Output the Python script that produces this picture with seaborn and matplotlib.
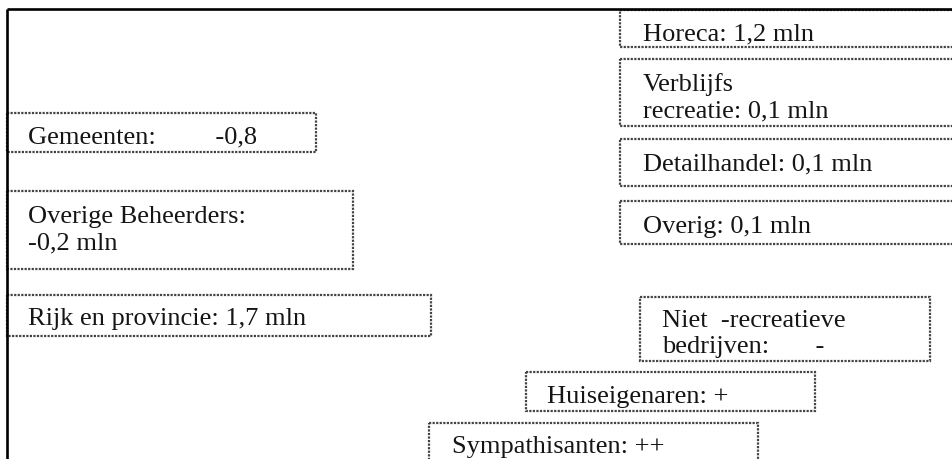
import matplotlib
matplotlib.use("Agg")
import matplotlib.pyplot as plt
from matplotlib.patches import Rectangle
import seaborn as sns

# ---- data (labels of the diagram boxes) ----
labels = [
    "Gemeenten:         -0,8",
    "Overige Beheerders:\n-0,2 mln",
    "Rijk en provincie: 1,7 mln",
    "Horeca: 1,2 mln",
    "Verblijfs\nrecreatie: 0,1 mln",
    "Detailhandel: 0,1 mln",
    "Overig: 0,1 mln",
    "Niet  -recreatieve\nbedrijven:       -",
    "Huiseigenaren: +",
    "Sympathisanten: ++",
]

# ---- layout (pixel positions in a 953x460 canvas) ----
box_x0 = [7, 7, 7, 620, 620, 620, 620, 640, 526, 429]
box_y0 = [114, 192, 296, 11, 60, 140, 202, 298, 373, 424]
box_x1 = [316, 353, 431, 975, 975, 975, 975, 930, 815, 758]
box_y1 = [153, 270, 337, 48, 127, 187, 245, 362, 412, 480]
text_x = [28, 28, 28, 643, 643, 643, 643, 662, 547, 452]
text_y = [143, 223, 325, 40, 91, 170, 233, 327, 403, 453]
line_gap = 26

sns.set_theme(style="white")
plt.rcParams["font.family"] = ["Liberation Serif", "DejaVu Serif"]

W, H = 953, 460
fig = plt.figure(figsize=(W / 100, H / 100), dpi=100)
ax = fig.add_axes([0, 0, 1, 1])
ax.set_xlim(0, W)
ax.set_ylim(H, 0)
ax.axis("off")

# outer frame (top and left)
ax.plot([7, W + 5], [9.5, 9.5], color="black", lw=1.9, solid_capstyle="butt")
ax.plot([7, 7], [9.5, H + 5], color="black", lw=1.9, solid_capstyle="butt")

for lab, x0, y0, x1, y1, tx, ty in zip(labels, box_x0, box_y0, box_x1, box_y1, text_x, text_y):
    ax.add_patch(Rectangle((x0, y0), x1 - x0, y1 - y0, fill=False,
                           edgecolor="#444444", lw=1.6, linestyle=(0, (1.0, 0.6))))
    for i, line in enumerate(lab.split("\n")):
        ax.text(tx, ty + i * line_gap, line, ha="left", va="baseline",
                fontsize=19, color="#151515")

fig.savefig("out.png", dpi=100, facecolor="white")
